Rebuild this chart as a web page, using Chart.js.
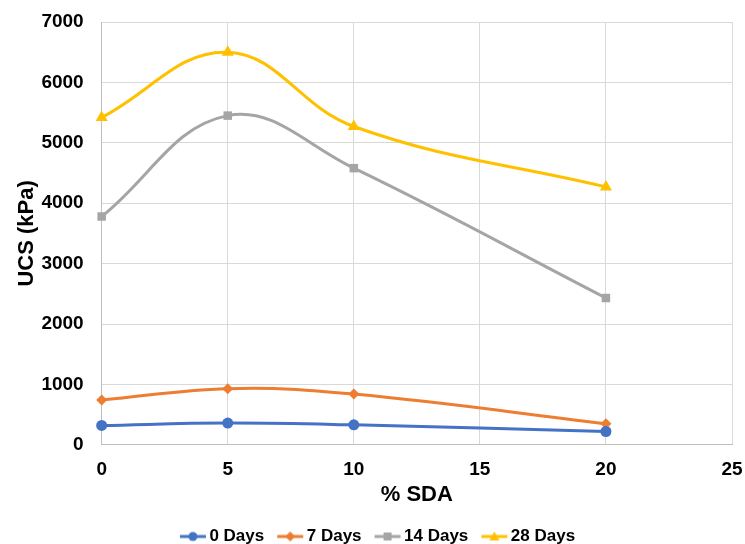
<!DOCTYPE html>
<html>
<head>
<meta charset="utf-8">
<script src="https://cdn.jsdelivr.net/npm/chart.js@4/dist/chart.umd.min.js"></script>
<style>
html,body{margin:0;padding:0;background:#fff;}
#wrap{width:745px;height:544px;}
</style>
</head>
<body>
<div id="wrap"><canvas id="c" width="745" height="544"></canvas></div>
<script>
const sdaPercent = [0, 5, 10, 20];
const seriesNames = ['0 Days', '7 Days', '14 Days', '28 Days'];
const ucs0Days = [320, 360, 330, 220];
const ucs7Days = [740, 930, 840, 350];
const ucs14Days = [3780, 5450, 4580, 2430];
const ucs28Days = [5420, 6500, 5270, 4270];
const xTicks = [0, 5, 10, 15, 20, 25];
const yTicks = [0, 1000, 2000, 3000, 4000, 5000, 6000, 7000];

const colors = ['#4472C4', '#ED7D31', '#A5A5A5', '#FFC000'];
const markers = ['circle', 'rectRot', 'rect', 'triangle'];
const allValues = [ucs0Days, ucs7Days, ucs14Days, ucs28Days];

function legendIcon(color, marker) {
  const cv = document.createElement('canvas');
  cv.width = 28; cv.height = 12;
  const g = cv.getContext('2d');
  g.strokeStyle = color; g.lineWidth = 3;
  g.beginPath(); g.moveTo(1, 6); g.lineTo(27, 6); g.stroke();
  g.fillStyle = color;
  g.beginPath();
  if (marker === 'circle') { g.arc(14, 6, 4.5, 0, Math.PI * 2); }
  else if (marker === 'rectRot') { g.moveTo(14, 1); g.lineTo(19, 6); g.lineTo(14, 11); g.lineTo(9, 6); g.closePath(); }
  else if (marker === 'rect') { g.rect(10, 2, 8, 8); }
  else { g.moveTo(14, 1); g.lineTo(19, 10); g.lineTo(9, 10); g.closePath(); }
  g.fill();
  return cv;
}
const icons = colors.map((c, i) => legendIcon(c, markers[i]));

const datasets = seriesNames.map((name, i) => ({
  label: name,
  data: sdaPercent.map((x, j) => ({x: x, y: allValues[i][j]})),
  borderColor: colors[i],
  backgroundColor: colors[i],
  borderWidth: 3,
  pointStyle: markers[i],
  pointRadius: markers[i] === 'triangle' ? 7 : (markers[i] === 'rect' ? 6 : 5.5),
  pointBorderWidth: 0,
  pointBackgroundColor: colors[i],
  tension: 0.4,
  clip: false,
  fill: false
}));

const FONT = 'Liberation Sans, Arial, sans-serif';

new Chart(document.getElementById('c'), {
  type: 'line',
  data: { datasets: datasets },
  options: {
    responsive: false,
    animation: false,
    layout: { padding: { left: 28, right: 13, top: 22, bottom: -11 } },
    plugins: {
      legend: {
        position: 'bottom',
        labels: {
          usePointStyle: true,
          pointStyleWidth: 16,
          font: { family: FONT, size: 17, weight: 'bold' },
          color: '#000',
          padding: 18,
          generateLabels: (chart) => chart.data.datasets.map((d, i) => ({
            text: d.label,
            pointStyle: icons[i],
            fillStyle: d.borderColor,
            strokeStyle: d.borderColor,
            lineWidth: 0,
            hidden: false,
            datasetIndex: i,
            fontColor: '#000'
          }))
        }
      },
      tooltip: { enabled: false }
    },
    scales: {
      x: {
        type: 'linear',
        min: 0, max: 25,
        afterBuildTicks: (axis) => { axis.ticks = xTicks.map(v => ({value: v})); },
        grid: { color: '#D9D9D9', lineWidth: 1, drawTicks: true, tickLength: 14, tickColor: 'rgba(0,0,0,0)' },
        border: { color: '#BFBFBF', width: 1 },
        ticks: { font: { family: FONT, size: 19, weight: 'bold' }, color: '#000', padding: 0, callback: (v) => String(v) },
        title: { display: true, text: '% SDA', font: { family: FONT, size: 22, weight: 'bold' }, color: '#000', padding: { top: 0, bottom: 2 } }
      },
      y: {
        min: 0, max: 7000,
        afterBuildTicks: (axis) => { axis.ticks = yTicks.map(v => ({value: v})); },
        grid: { color: '#D9D9D9', lineWidth: 1, drawTicks: true, tickLength: 18, tickColor: 'rgba(0,0,0,0)' },
        border: { color: '#BFBFBF', width: 1 },
        ticks: { font: { family: FONT, size: 19, weight: 'bold' }, color: '#000', padding: 0, callback: (v) => String(v) },
        title: { display: true, text: 'UCS (kPa)', font: { family: FONT, size: 22, weight: 'bold' }, color: '#000', padding: { top: -14, bottom: 1 } }
      }
    }
  }
});
</script>
</body>
</html>
